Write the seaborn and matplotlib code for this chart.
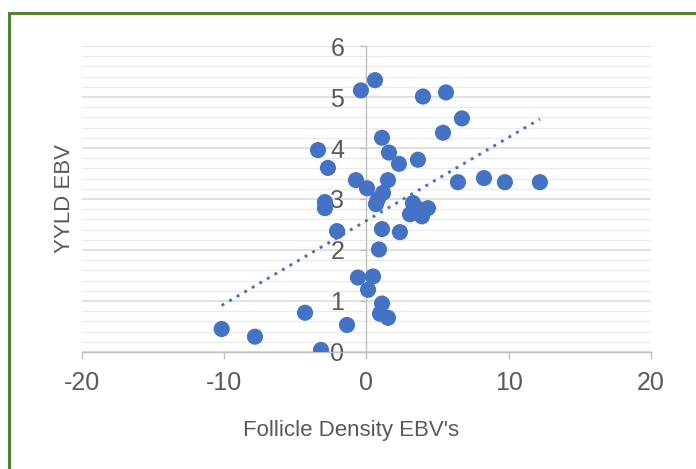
import numpy as np
import pandas as pd
import matplotlib
matplotlib.use("Agg")
import matplotlib.pyplot as plt
import matplotlib.patches as patches
from matplotlib.ticker import MultipleLocator
import seaborn as sns

# Données
follicle_ebv = [0.60, -0.39, 3.97, 5.59, 6.71, 5.38, 1.09, -3.41, 1.58, 2.28,
                3.62, -2.71, -0.74, 0.04, 1.51, 1.16, 0.81, 0.67, -2.92, -2.92,
                6.43, 8.26, 9.73, 12.19, 3.27, 4.32, 3.06, 3.90, 3.55, 1.09,
                2.35, -2.07, 0.88, -0.60, 0.46, 0.11, 1.09, 0.95, 1.51, -4.32,
                -1.37, -10.18, -7.84, -3.20]
yyld_ebv = [5.33, 5.13, 5.01, 5.09, 4.58, 4.30, 4.20, 3.96, 3.91, 3.69,
            3.77, 3.61, 3.37, 3.21, 3.37, 3.12, 3.00, 2.90, 2.94, 2.82,
            3.33, 3.41, 3.33, 3.33, 2.92, 2.82, 2.70, 2.66, 2.82, 2.41,
            2.35, 2.37, 2.01, 1.46, 1.48, 1.22, 0.95, 0.75, 0.67, 0.77,
            0.53, 0.45, 0.30, 0.04]
x_ticks = [-20, -10, 0, 10, 20]
y_ticks = [0, 1, 2, 3, 4, 5, 6]

df = pd.DataFrame({"Follicle Density EBV's": follicle_ebv, "YYLD EBV": yyld_ebv})

sns.set_style("white")
plt.rcParams['font.family'] = ['Liberation Sans', 'DejaVu Sans']
plt.rcParams['axes.unicode_minus'] = False

fig = plt.figure(figsize=(6.96, 4.69), dpi=100)
ax = fig.add_axes([0.1178, 0.2495, 0.8175, 0.6524])

blue = "#4472C4"
grey_txt = "#595959"

sns.scatterplot(data=df, x="Follicle Density EBV's", y="YYLD EBV", ax=ax,
                color=blue, s=135, edgecolor="none", zorder=3)
sns.regplot(data=df, x="Follicle Density EBV's", y="YYLD EBV", ax=ax,
            scatter=False, ci=None, truncate=True,
            line_kws=dict(color=blue, lw=2.1, ls=(0, (1, 2.0)), zorder=4))

ax.set_xlim(-20, 20)
ax.set_ylim(0, 6)
ax.set_xticks(x_ticks)
ax.set_yticks(y_ticks)
ax.yaxis.set_minor_locator(MultipleLocator(0.2))

# grille horizontale
ax.grid(axis="y", which="major", color="#d9d9d9", lw=1.1, zorder=0)
ax.grid(axis="y", which="minor", color="#ebebeb", lw=0.9, zorder=0)
ax.grid(axis="x", visible=False)
ax.set_axisbelow(True)

# axes style Excel
for s in ["top", "right"]:
    ax.spines[s].set_visible(False)
ax.spines["left"].set_position(("data", 0))
ax.spines["left"].set_color("#bfbfbf")
ax.spines["bottom"].set_color("#bfbfbf")
ax.spines["left"].set_linewidth(1.0)
ax.spines["bottom"].set_linewidth(1.0)

ax.tick_params(axis="x", which="major", direction="out", length=5, width=1,
               color="#bfbfbf", labelsize=18, labelcolor=grey_txt, pad=9, bottom=True)
ax.tick_params(axis="y", which="major", direction="out", length=4, width=1,
               color="#bfbfbf", labelsize=18, labelcolor=grey_txt, pad=12, left=True)
ax.tick_params(axis="y", which="minor", left=False)

ax.set_xlabel("Follicle Density EBV's", fontsize=16, color=grey_txt)
ax.set_ylabel("YYLD EBV", fontsize=16, color=grey_txt)
ax.xaxis.set_label_coords(0.4736, -0.222)
ax.yaxis.set_label_coords(-0.012, 0.5)

# cadre vert
fig.patches.append(patches.Rectangle((9 / 696, -0.1), 1.2, 1 - 13 / 469 + 0.1,
                                     transform=fig.transFigure, fill=False,
                                     ec="#548235", lw=2.2))

fig.savefig("out.png", dpi=100)
